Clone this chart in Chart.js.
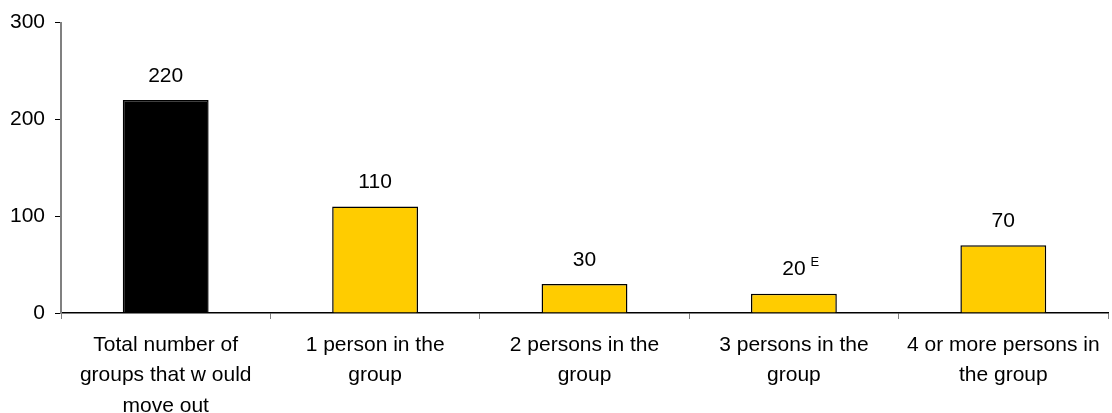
<!DOCTYPE html>
<html>
<head>
<meta charset="utf-8">
<script src="https://cdn.jsdelivr.net/npm/chart.js@4"></script>
<style>
  html, body { margin: 0; padding: 0; background: #fff; }
  #wrap { width: 1112px; height: 413px; }
</style>
</head>
<body>
<div id="wrap"><canvas id="chart"></canvas></div>
<script>
var categories = [
    ["Total number of", "groups that w ould", "move out"],
    ["1 person in the", "group"],
    ["2 persons in the", "group"],
    ["3 persons in the", "group"],
    ["4 or more persons in", "the group"]
];
var values = [220, 110, 30, 20, 70];
var flags = ["", "", "", "E", ""];
var barColors = ["#000000", "#ffcc00", "#ffcc00", "#ffcc00", "#ffcc00"];
var yTicks = [0, 100, 200, 300];

Chart.defaults.font.family = "'Liberation Sans', Arial, sans-serif";
Chart.defaults.font.size = 21;
Chart.defaults.color = "#000";

// value labels above the bars, with the small "E" quality flag
var barLabels = {
    id: "barLabels",
    afterDatasetsDraw: function (chart) {
        var ctx = chart.ctx;
        var meta = chart.getDatasetMeta(0);
        ctx.save();
        ctx.fillStyle = "#000";
        ctx.textAlign = "center";
        ctx.textBaseline = "middle";
        meta.data.forEach(function (bar, i) {
            ctx.font = "21px 'Liberation Sans', Arial, sans-serif";
            var y = bar.y - 24;
            ctx.fillText(String(values[i]), bar.x, y);
            if (flags[i]) {
                var w = ctx.measureText(String(values[i])).width;
                ctx.font = "13px 'Liberation Sans', Arial, sans-serif";
                ctx.textAlign = "left";
                ctx.fillText(flags[i], bar.x + w / 2 + 5, y - 7);
                ctx.textAlign = "center";
            }
        });
        ctx.restore();
    }
};

new Chart(document.getElementById("chart").getContext("2d"), {
    type: "bar",
    data: {
        labels: categories,
        datasets: [{
            data: values,
            backgroundColor: barColors,
            borderColor: "#000",
            borderWidth: 1.5,
            barPercentage: 0.41,
            categoryPercentage: 1.0
        }]
    },
    options: {
        responsive: true,
        maintainAspectRatio: false,
        animation: false,
        layout: { padding: { top: 22, right: 4, left: 0, bottom: 0 } },
        plugins: {
            legend: { display: false },
            tooltip: { enabled: false }
        },
        scales: {
            x: {
                grid: {
                    drawOnChartArea: false,
                    drawTicks: true,
                    tickLength: 6,
                    color: "#808080"
                },
                border: { color: "#000", width: 1.5 },
                ticks: {
                    maxRotation: 0,
                    autoSkip: false,
                    padding: 11,
                    font: { size: 21, lineHeight: 1.45 }
                },
                afterFit: function (scale) { scale.height = 100; }
            },
            y: {
                min: 0,
                max: 300,
                afterBuildTicks: function (scale) {
                    scale.ticks = yTicks.map(function (v) { return { value: v }; });
                },
                grid: {
                    drawOnChartArea: false,
                    drawTicks: true,
                    tickLength: 6,
                    color: "#000"
                },
                border: { color: "#808080", width: 2 },
                ticks: { padding: 10, font: { size: 21 } },
                afterFit: function (scale) { scale.width = 61; }
            }
        }
    },
    plugins: [barLabels]
});
</script>
</body>
</html>
